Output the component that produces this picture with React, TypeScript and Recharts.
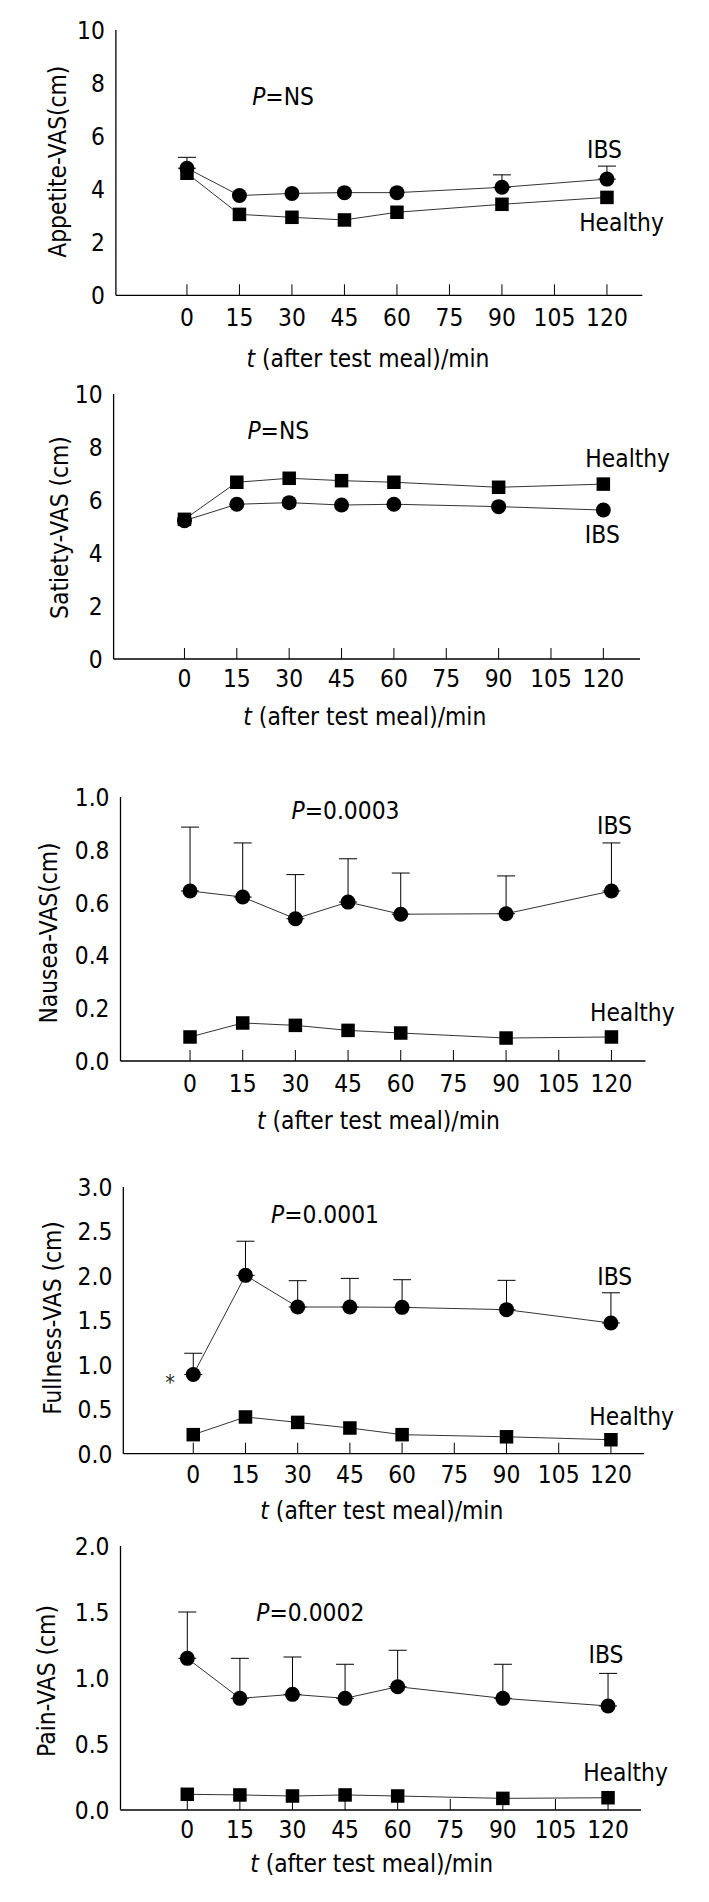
import React from 'react';
import { LineChart, Line, XAxis, YAxis, ErrorBar } from 'recharts';

const FONT = '"DejaVu Sans", Verdana, sans-serif';
const FS = 25;
const SX = 0.875;

const times = [0, 15, 30, 45, 60, 90, 120];
const xTicks = [0, 15, 30, 45, 60, 75, 90, 105, 120];

// Appetite
const appetiteIBS = [4.79, 3.76, 3.84, 3.87, 3.87, 4.07, 4.38];
const appetiteIBSTop = [5.2, null, null, null, null, 4.54, 4.87];
const appetiteHealthy = [4.6, 3.05, 2.94, 2.84, 3.13, 3.43, 3.69];
const appetiteLabels = [0, 2, 4, 6, 8, 10];
const appetiteMarks = [10, 8.14, 6.36, 4.57, 2.75, 0.98];

// Satiety
const satietyIBS = [5.22, 5.84, 5.9, 5.81, 5.84, 5.75, 5.62];
const satietyIBSTop = [null, null, null, null, null, null, null];
const satietyHealthy = [5.27, 6.67, 6.82, 6.73, 6.67, 6.48, 6.6];
const satietyLabels = [0, 2, 4, 6, 8, 10];
const satietyMarks = [10, 8.14, 6.35, 4.59, 2.73, 0.99];

// Nausea
const nauseaIBS = [0.644, 0.621, 0.539, 0.602, 0.556, 0.558, 0.644];
const nauseaIBSTop = [0.886, 0.826, 0.706, 0.766, 0.712, 0.701, 0.826];
const nauseaHealthy = [0.091, 0.144, 0.135, 0.116, 0.106, 0.087, 0.091];
const nauseaLabels = [0, 0.2, 0.4, 0.6, 0.8, 1.0];
const nauseaMarks = [1.0, 0.819, 0.64, 0.463, 0.274, 0.085];

// Fullness
const fullnessIBS = [0.89, 2.006, 1.65, 1.65, 1.646, 1.62, 1.47];
const fullnessIBSTop = [1.13, 2.39, 1.946, 1.972, 1.957, 1.95, 1.81];
const fullnessHealthy = [0.214, 0.413, 0.352, 0.289, 0.214, 0.19, 0.157];
const fullnessLabels = [0, 0.5, 1.0, 1.5, 2.0, 2.5, 3.0];
const fullnessMarks = [3.0, 2.5, 2.03, 1.57, 1.07, 0.59, 0.13];

// Pain
const painIBS = [1.149, 0.846, 0.876, 0.846, 0.934, 0.846, 0.788];
const painIBSTop = [1.5, 1.149, 1.159, 1.104, 1.21, 1.104, 1.035];
const painHealthy = [0.119, 0.114, 0.106, 0.114, 0.106, 0.088, 0.093];
const painLabels = [0, 0.5, 1.0, 1.5, 2.0];
const painMarks = [2.0, 1.515, 1.048, 0.576, 0.071];

function rows(ibs: number[], top: (number | null)[], healthy: number[]) {
  return times.map((t, i) => ({
    t,
    ibs: ibs[i],
    healthy: healthy[i],
    err: top[i] == null ? undefined : [0, +((top[i] as number) - ibs[i]).toFixed(3)],
  }));
}

function SText(props: any) {
  const { x, y, children, anchor = 'middle', rotate = 0, size = FS, fill = '#000', dy = '0.36em' } = props;
  const tr = `translate(${x},${y})` + (rotate ? ` rotate(${rotate})` : '') + ` scale(${SX},1)`;
  return (
    <text transform={tr} textAnchor={anchor} dy={dy} fontFamily={FONT} fontSize={size} fill={fill}>
      {children}
    </text>
  );
}

const XTick = (props: any) => {
  const { x, y, payload } = props;
  return <SText x={x} y={y}>{String(payload.value)}</SText>;
};

const makeYTick = (dec: number) => (props: any) => {
  const { x, y, payload } = props;
  return <SText x={x} y={y} anchor="end">{Number(payload.value).toFixed(dec)}</SText>;
};

const SquareDot = (props: any) => {
  const { cx, cy, index } = props;
  if (cx == null || cy == null) return <g key={index} />;
  return <rect key={index} x={cx - 6.75} y={cy - 6.75} width={13.5} height={13.5} fill="#000" />;
};

const panels = [
  {
    Tp: 30, B: 295.3, L: 115.9, R: 642.3, xDomain: [-20.3, 130.1], yDomain: [0, 10],
    labels: appetiteLabels, marks: appetiteMarks, dec: 0, xOff: 21.5,
    data: rows(appetiteIBS, appetiteIBSTop, appetiteHealthy),
  },
  {
    Tp: 394, B: 659, L: 113.6, R: 640, xDomain: [-20.3, 130.5], yDomain: [0, 10],
    labels: satietyLabels, marks: satietyMarks, dec: 0, xOff: 19,
    data: rows(satietyIBS, satietyIBSTop, satietyHealthy),
  },
  {
    Tp: 796.7, B: 1060.7, L: 120.5, R: 645.5, xDomain: [-19.8, 129.7], yDomain: [0, 1],
    labels: nauseaLabels, marks: nauseaMarks, dec: 1, xOff: 22,
    data: rows(nauseaIBS, nauseaIBSTop, nauseaHealthy),
  },
  {
    Tp: 1187.3, B: 1454, L: 123.3, R: 644, xDomain: [-20.1, 129.5], yDomain: [0, 3],
    labels: fullnessLabels, marks: fullnessMarks, dec: 1, xOff: 20,
    data: rows(fullnessIBS, fullnessIBSTop, fullnessHealthy),
  },
  {
    Tp: 1546, B: 1810, L: 120.5, R: 641, xDomain: [-19.05, 129.4], yDomain: [0, 2],
    labels: painLabels, marks: painMarks, dec: 1, xOff: 19,
    data: rows(painIBS, painIBSTop, painHealthy),
  },
];

function Panel({ cfg }: { cfg: any }) {
  const { Tp, B, L, R, xDomain, yDomain, labels, marks, dec, xOff, data } = cfg;
  const top = Tp - 20;
  const height = B - Tp + 60;
  const YTick = makeYTick(dec);
  return (
    <div style={{ position: 'absolute', left: 0, top, width: 709, height }}>
      <LineChart width={709} height={height} data={data} margin={{ top: 20, left: L - 2, right: 709 - R, bottom: 39 }}>
        <XAxis
          dataKey="t" type="number" domain={xDomain} ticks={xTicks} interval={0} allowDataOverflow
          height={1} tickSize={-11} tickMargin={11 + xOff} tick={XTick}
          tickLine={{ stroke: '#000', strokeWidth: 1 }} axisLine={{ stroke: '#000', strokeWidth: 1.3 }}
        />
        <YAxis
          yAxisId="lab" type="number" domain={yDomain} ticks={labels} interval={0} width={1}
          tickSize={0} tickMargin={11} tickLine={false} tick={YTick}
          axisLine={{ stroke: '#000', strokeWidth: 1.3 }} allowDataOverflow
        />
        <YAxis
          yAxisId="marks" type="number" domain={yDomain} ticks={marks} interval={0} width={1}
          tick={false} axisLine={false} tickSize={-11} tickLine={{ stroke: '#000', strokeWidth: 1 }} allowDataOverflow
        />
        <Line
          yAxisId="lab" dataKey="healthy" stroke="#333" strokeWidth={1} isAnimationActive={false}
          dot={SquareDot} activeDot={false}
        />
        <Line
          yAxisId="lab" dataKey="ibs" stroke="#333" strokeWidth={1} isAnimationActive={false}
          dot={{ r: 7.5, fill: '#000', stroke: '#000', strokeWidth: 0 }} activeDot={false}
        >
          <ErrorBar dataKey="err" direction="y" width={9} stroke="#000" strokeWidth={1} />
        </Line>
      </LineChart>
    </div>
  );
}

const PItalic = ({ rest }: { rest: string }) => (
  <>
    <tspan fontStyle="italic">P</tspan>
    {rest}
  </>
);

const XTitle = () => (
  <>
    <tspan fontStyle="italic">t</tspan>
    {' (after test meal)/min'}
  </>
);

export default function App() {
  return (
    <div style={{ position: 'absolute', left: 0, top: 0, width: 709, height: 1902, background: '#fff', overflow: 'hidden' }}>
      {panels.map((p, i) => (
        <Panel key={i} cfg={p} />
      ))}
      <svg width={709} height={1902} style={{ position: 'absolute', left: 0, top: 0, pointerEvents: 'none' }}>
        {/* Panel 1 */}
        <SText x={283} y={95.7}><PItalic rest="=NS" /></SText>
        <SText x={604.5} y={148.7}>IBS</SText>
        <SText x={621.5} y={222}>Healthy</SText>
        <SText x={56.8} y={161.7} rotate={-90}>Appetite-VAS(cm)</SText>
        <SText x={368} y={358}><XTitle /></SText>
        {/* Panel 2 */}
        <SText x={278.3} y={430}><PItalic rest="=NS" /></SText>
        <SText x={627.7} y={458}>Healthy</SText>
        <SText x={602.3} y={534}>IBS</SText>
        <SText x={59} y={527.5} rotate={-90}>Satiety-VAS (cm)</SText>
        <SText x={364.8} y={716}><XTitle /></SText>
        {/* Panel 3 */}
        <SText x={345.5} y={810}><PItalic rest="=0.0003" /></SText>
        <SText x={614.5} y={825}>IBS</SText>
        <SText x={632.3} y={1012}>Healthy</SText>
        <SText x={47.7} y={933} rotate={-90}>Nausea-VAS(cm)</SText>
        <SText x={378.4} y={1120}><XTitle /></SText>
        {/* Panel 4 */}
        <SText x={325} y={1214}><PItalic rest="=0.0001" /></SText>
        <SText x={614.7} y={1276}>IBS</SText>
        <SText x={631.7} y={1416}>Healthy</SText>
        <SText x={170} y={1378} size={22} dy="0.56em" fill="#222">*</SText>
        <SText x={52.3} y={1318} rotate={-90}>Fullness-VAS (cm)</SText>
        <SText x={381.8} y={1510}><XTitle /></SText>
        {/* Panel 5 */}
        <SText x={310.3} y={1612}><PItalic rest="=0.0002" /></SText>
        <SText x={606} y={1654}>IBS</SText>
        <SText x={625.5} y={1772}>Healthy</SText>
        <SText x={45.5} y={1681} rotate={-90}>Pain-VAS (cm)</SText>
        <SText x={371.6} y={1863}><XTitle /></SText>
      </svg>
    </div>
  );
}
